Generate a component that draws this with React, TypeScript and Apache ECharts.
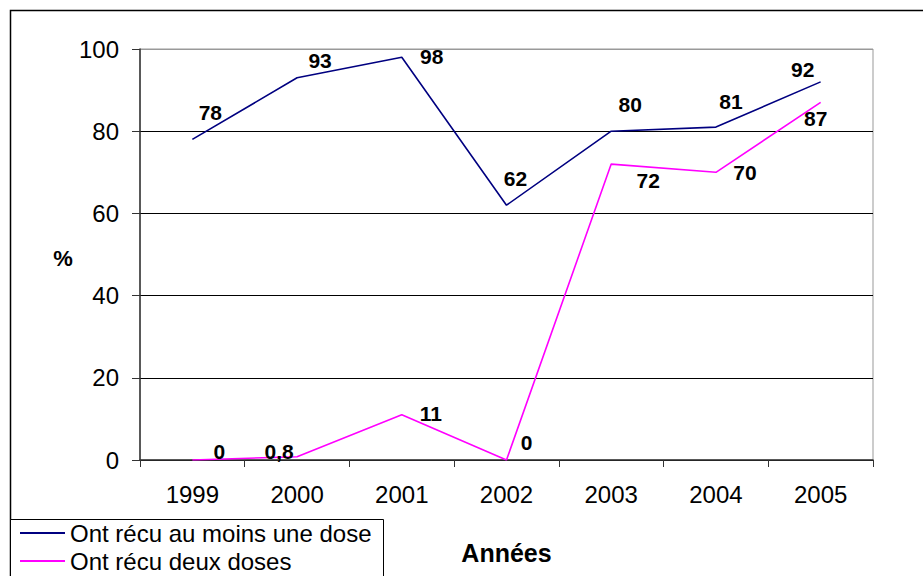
import React, { useEffect, useRef } from "react";
import * as echarts from "echarts";

const years = ["1999", "2000", "2001", "2002", "2003", "2004", "2005"];
const auMoinsUneDose = [78, 93, 98, 62, 80, 81, 92];
const deuxDoses = [0, 0.8, 11, 0, 72, 70, 87];
const yTicks = { min: 0, max: 100, interval: 20 };
const seriesNames = ["Ont récu au moins une dose", "Ont récu deux doses"];

// label offsets (styling only): [dx, dy] from each point
const labelOffsetsUne: number[][] = [[18, -27], [23, -17], [30, -1], [9, -27], [19, -27], [15, -26], [-18, -12]];
const labelOffsetsDeux: number[][] = [[27, -9], [-18, -5], [29, -1], [20, -18], [37, 16], [29, 0], [-5, 16]];

const FONT = "Liberation Sans";

function buildData(values: number[], offsets: number[][]) {
  return values.map((v, i) => ({
    value: v,
    label: { offset: offsets[i] },
  }));
}

export default function App() {
  const ref = useRef<HTMLDivElement>(null);
  useEffect(() => {
    if (!ref.current) return;
    const chart = echarts.init(ref.current, undefined, { renderer: "svg" });
    const labelCommon = {
      show: true,
      position: "inside" as const,
      color: "#000",
      fontFamily: FONT,
      fontWeight: "bold" as const,
      fontSize: 21,
      formatter: (p: any) => String(p.value).replace(".", ","),
    };
    const legendCommon = {
      orient: "horizontal" as const,
      left: 20,
      padding: 0,
      itemWidth: 45,
      itemHeight: 2,
      icon: "rect",
      textStyle: { color: "#000", fontSize: 24, fontFamily: FONT },
    };
    chart.setOption({
      animation: false,
      backgroundColor: "#fff",
      textStyle: { fontFamily: FONT },
      grid: {
        left: 140,
        right: 50,
        top: 49,
        bottom: 116,
        show: true,
        borderColor: "#999",
        borderWidth: 1,
        backgroundColor: "transparent",
      },
      legend: [
        { ...legendCommon, top: 521, data: [seriesNames[0]] },
        { ...legendCommon, top: 549, data: [seriesNames[1]] },
      ],
      xAxis: {
        type: "category",
        data: years,
        boundaryGap: true,
        name: "Années",
        nameLocation: "middle",
        nameGap: 80,
        nameTextStyle: { color: "#000", fontSize: 25, fontWeight: "bold", fontFamily: FONT },
        axisLine: { lineStyle: { color: "#333", width: 1.5 } },
        axisTick: { show: true, length: 7, lineStyle: { color: "#333" } },
        axisLabel: { color: "#000", fontSize: 24, margin: 22, fontFamily: FONT },
        splitLine: { show: false },
      },
      yAxis: {
        type: "value",
        min: yTicks.min,
        max: yTicks.max,
        interval: yTicks.interval,
        axisLine: { show: true, lineStyle: { color: "#333", width: 1.5 } },
        axisTick: { show: true, length: 8, lineStyle: { color: "#333" } },
        axisLabel: { color: "#000", fontSize: 24, margin: 21, fontFamily: FONT },
        splitLine: {
          show: true,
          lineStyle: { color: ["#000", "#000", "#000", "#000", "#000", "#999"], width: 1 },
        },
      },
      graphic: [
        {
          type: "rect",
          shape: { x: 10.5, y: 10.5, width: 1000, height: 1000 },
          style: { fill: "none", stroke: "#000", lineWidth: 1.5 },
          silent: true,
          z: -1,
        },
        {
          type: "rect",
          shape: { x: 10.5, y: 519.5, width: 373, height: 100 },
          style: { fill: "#fff", stroke: "#000", lineWidth: 1 },
          silent: true,
          z: -1,
        },
        {
          type: "text",
          x: 63,
          y: 258,
          style: {
            text: "%",
            fill: "#000",
            font: `bold 22px "${FONT}"`,
            align: "center",
            verticalAlign: "middle",
          },
        },
      ],
      series: [
        {
          name: seriesNames[0],
          type: "line",
          data: buildData(auMoinsUneDose, labelOffsetsUne),
          symbol: "circle",
          symbolSize: 0.1,
          itemStyle: { color: "#000080" },
          lineStyle: { color: "#000080", width: 1.6 },
          label: labelCommon,
          z: 3,
        },
        {
          name: seriesNames[1],
          type: "line",
          data: buildData(deuxDoses, labelOffsetsDeux),
          symbol: "circle",
          symbolSize: 0.1,
          itemStyle: { color: "#FF00FF" },
          lineStyle: { color: "#FF00FF", width: 1.6 },
          label: labelCommon,
          z: 4,
        },
      ],
    });
    return () => chart.dispose();
  }, []);
  return (
    <div
      ref={ref}
      style={{ position: "fixed", left: 0, top: 0, width: 923, height: 576 }}
    />
  );
}
